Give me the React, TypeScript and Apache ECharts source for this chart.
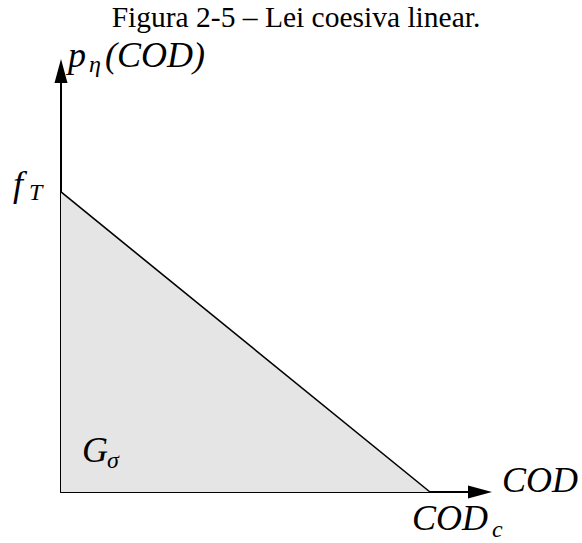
import React, { useEffect, useRef } from "react";
import * as echarts from "echarts";

// Linear cohesive law: traction falls linearly from f_T at zero opening to zero at COD_c
const codValues = [0, 1];
const tractionValues = [1, 0];
const tractionTickLabel = ["f", "T"];
const codTickLabel = ["COD", "c"];
const xAxisName = "COD";
const yAxisName = ["p", "η", "(COD)"];
const areaLabel = ["G", "σ"];
const titleText = "Figura 2-5 – Lei coesiva linear.";

const SERIF = "'Liberation Serif', 'Times New Roman', serif";
const BIG = 36;
const SUB = 24;

// text placed by its alphabetic baseline (svg text uses a central baseline)
function txt(s: string, left: number, baseline: number, size: number, italic = true) {
  return {
    type: "text",
    x: left,
    y: baseline - 0.3375 * size,
    z: 100,
    silent: true,
    style: {
      text: s,
      fill: "#000",
      font: `${italic ? "italic " : ""}${size}px ${SERIF}`,
      align: "left",
      verticalAlign: "middle",
    },
  };
}

export default function App() {
  const ref = useRef<HTMLDivElement>(null);

  useEffect(() => {
    if (!ref.current) return;
    const chart = echarts.init(ref.current, undefined, { renderer: "svg" });

    const axisCommon = {
      type: "value" as const,
      min: 0,
      splitLine: { show: false },
      axisTick: { show: false },
      axisLabel: { show: false },
      axisLine: {
        show: true,
        onZero: false,
        symbol: ["none", "triangle"],
        symbolSize: [13, 24],
        lineStyle: { color: "#000", width: 2 },
      },
    };

    chart.setOption({
      animation: false,
      backgroundColor: "#fff",
      grid: { left: 61, right: 102, top: 71, bottom: 51 },
      xAxis: { ...axisCommon, max: 1.1355 },
      yAxis: { ...axisCommon, max: 1.4033 },
      series: [
        {
          type: "line",
          data: codValues.map((c, i) => [c, tractionValues[i]]),
          symbol: "none",
          lineStyle: { color: "#000", width: 1.6 },
          areaStyle: { color: "#e5e5e5", opacity: 1 },
          z: 1,
        },
      ],
    });

    const pFt = chart.convertToPixel({ gridIndex: 0 }, [0, tractionValues[0]]) as number[];
    const pCodc = chart.convertToPixel({ gridIndex: 0 }, [codValues[1], 0]) as number[];
    const origin = chart.convertToPixel({ gridIndex: 0 }, [0, 0]) as number[];
    const xTip = [480 + 12, origin[1]];
    const yTip = [origin[0], 71 - 12];

    chart.setOption({
      graphic: [
        {
          type: "text",
          x: 296,
          y: 27 - 0.3375 * 29.5,
          z: 100,
          silent: true,
          style: {
            text: titleText,
            fill: "#000",
            font: `29.5px ${SERIF}`,
            align: "center",
            verticalAlign: "middle",
          },
        },
        // y axis name
        txt(yAxisName[0], yTip[0] + 7, yTip[1] + 8, BIG),
        txt(yAxisName[1], yTip[0] + 28, yTip[1] + 13, SUB),
        txt(yAxisName[2], yTip[0] + 44, yTip[1] + 8, BIG),
        // x axis name
        txt(xAxisName, xTip[0] + 10, xTip[1], BIG),
        // f_T tick
        txt(tractionTickLabel[0], pFt[0] - 48, pFt[1] + 4, BIG),
        txt(tractionTickLabel[1], pFt[0] - 32, pFt[1] + 8, SUB),
        // COD_c tick
        txt(codTickLabel[0], pCodc[0] - 18, pCodc[1] + 38, BIG),
        txt(codTickLabel[1], pCodc[0] + 62, pCodc[1] + 45, SUB),
        // G_sigma inside the shaded area
        txt(areaLabel[0], origin[0] + 21, origin[1] - 30, BIG),
        txt(areaLabel[1], origin[0] + 46, origin[1] - 24, SUB),
      ],
    });

    return () => chart.dispose();
  }, []);

  return (
    <div
      ref={ref}
      style={{ position: "fixed", left: 0, top: 0, width: 582, height: 543, background: "#fff" }}
    />
  );
}
